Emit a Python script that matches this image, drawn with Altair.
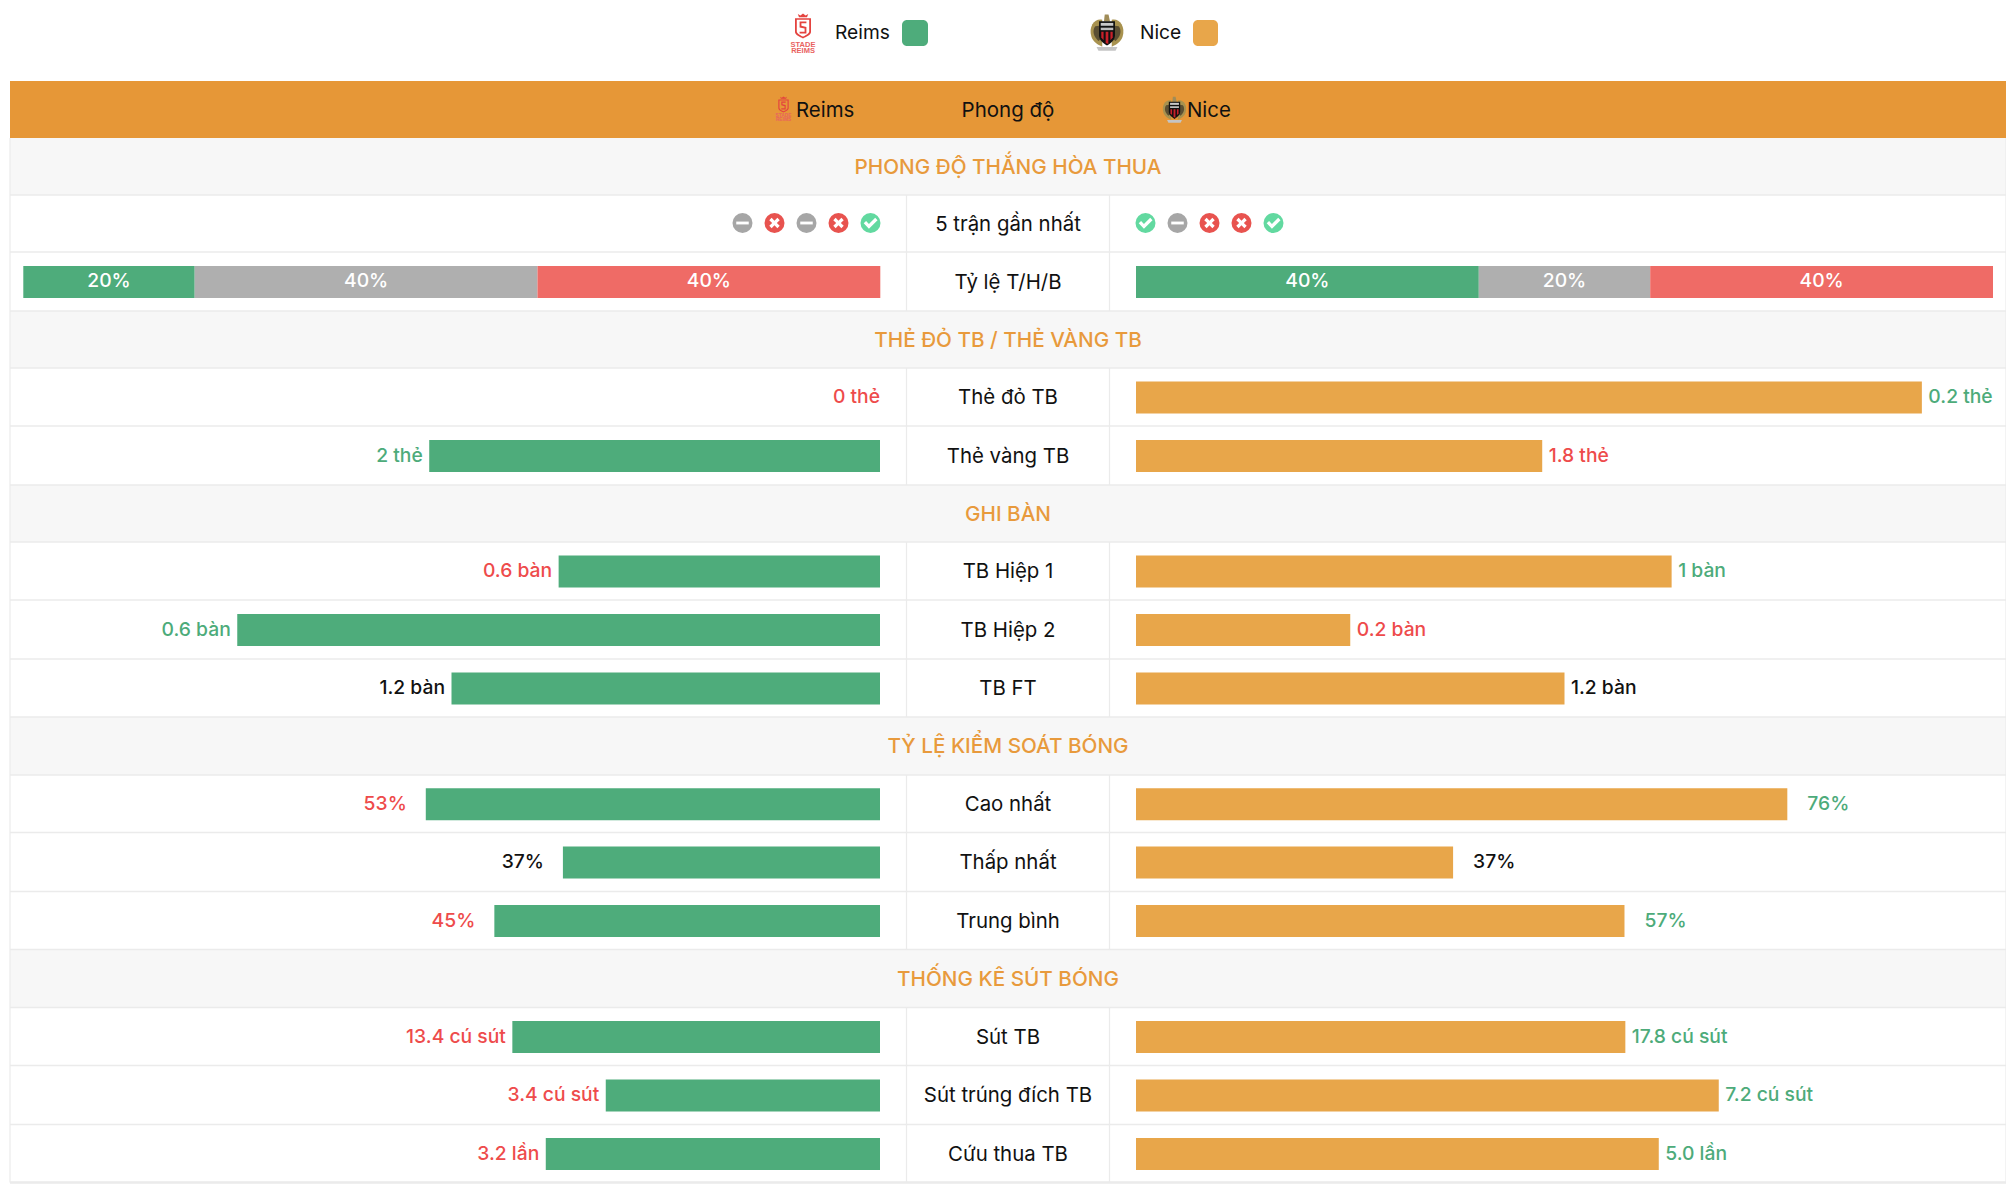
import altair as alt
import pandas as pd

FONT = "Inter"
# ---- data ----
team_left = "Reims"
team_right = "Nice"
center_header = "Phong độ"

form_section = "PHONG ĐỘ THẮNG HÒA THUA"
form_label = "5 trận gần nhất"
form_left = ["D", "L", "D", "L", "W"]
form_right = ["W", "D", "L", "L", "W"]
rate_label = "Tỷ lệ T/H/B"
rate_left = [20, 40, 40]
rate_right = [40, 20, 40]

sections = [
    "THẺ ĐỎ TB / THẺ VÀNG TB",
    "GHI BÀN",
    "TỶ LỆ KIỂM SOÁT BÓNG",
    "THỐNG KÊ SÚT BÓNG",
]
metric_groups = [
    ["Thẻ đỏ TB", "Thẻ vàng TB"],
    ["TB Hiệp 1", "TB Hiệp 2", "TB FT"],
    ["Cao nhất", "Thấp nhất", "Trung bình"],
    ["Sút TB", "Sút trúng đích TB", "Cứu thua TB"],
]
left_text = [
    ["0 thẻ", "2 thẻ"],
    ["0.6 bàn", "0.6 bàn", "1.2 bàn"],
    ["53%", "37%", "45%"],
    ["13.4 cú sút", "3.4 cú sút", "3.2 lần"],
]
right_text = [
    ["0.2 thẻ", "1.8 thẻ"],
    ["1 bàn", "0.2 bàn", "1.2 bàn"],
    ["76%", "37%", "57%"],
    ["17.8 cú sút", "7.2 cú sút", "5.0 lần"],
]
left_share = [[0, 52.6], [37.5, 75, 50], [53, 37, 45], [42.9, 32, 39]]
right_share = [[91.7, 47.4], [62.5, 25, 50], [76, 37, 57], [57.1, 68, 61]]
# w = better, l = worse, t = level
left_tone = [["l", "w"], ["l", "w", "t"], ["l", "t", "l"], ["l", "l", "l"]]
right_tone = [["w", "l"], ["w", "l", "t"], ["w", "t", "w"], ["w", "w", "w"]]

# ---- styles & layout ----
GREEN, ORANGE, HEAD = "#4EAC7B", "#E8A64A", "#E69737"
RED_BAR, GREY_BAR = "#EF6B66", "#AFAFAF"
TONE = {"w": "#4DAB7A", "l": "#EE4B4B", "t": "#111111"}
BAND, LINE = "#F7F7F7", "#EBEBEB"
L_EDGE, R_EDGE = 10, 2006
C_LEFT, C_RIGHT = 906.5, 1109.5
MID = 1008
L_END, R_START, COL_W = 880, 1136, 857
BAR_H = 32

xs = alt.Scale(domain=[8, 2006], range=[0, 1998], nice=False, zero=False)
ys = alt.Scale(domain=[8, 1190], range=[0, 1182], nice=False, zero=False)
X = lambda f="x": alt.X(f"{f}:Q", scale=xs, axis=None)
Y = lambda f="y": alt.Y(f"{f}:Q", scale=ys, axis=None)
X2 = lambda f="x2": alt.X2(f"{f}:Q")
Y2 = lambda f="y2": alt.Y2(f"{f}:Q")
C = alt.Color("c:N", scale=None, legend=None)

# row heights in page order
heights = [57, 57, 59, 57, 58, 59, 57, 58, 59, 58, 58, 57.5, 59, 58, 58, 58, 59, 58]
kinds = ["s", "f", "r"]
titles = [form_section, form_label, rate_label]
for s, g in zip(sections, metric_groups):
    kinds.append("s"); titles.append(s)
    kinds += ["m"] * len(g); titles += g

tops = [138]
for h in heights:
    tops.append(tops[-1] + h)

bands, sect_txt, row_txt, hlines, vlines, cy_metrics = [], [], [], [], [], []
for i, (k, t) in enumerate(zip(kinds, titles)):
    top, bot = tops[i], tops[i + 1]
    cy = (top + bot) / 2
    hlines.append({"x": L_EDGE, "x2": R_EDGE, "y": bot})
    if k == "s":
        bands.append({"x": L_EDGE, "x2": R_EDGE, "y": top, "y2": bot})
        sect_txt.append({"x": MID, "y": cy + 1, "t": t})
    else:
        row_txt.append({"x": MID, "y": cy + 1, "t": t})
        vlines += [{"x": C_LEFT, "y": top, "y2": bot}, {"x": C_RIGHT, "y": top, "y2": bot}]
        if k == "m":
            cy_metrics.append(cy)
form_y = (tops[1] + tops[2]) / 2
rate_y = (tops[2] + tops[3]) / 2

bars, labels = [], []
n = 0
for gi, g in enumerate(metric_groups):
    for j in range(len(g)):
        cy = cy_metrics[n] + 0.5; n += 1
        lgap = 19 if gi == 2 else 6.5
        rgap = 20 if gi == 2 else 6.5
        lw = left_share[gi][j] / 100 * COL_W
        rw = right_share[gi][j] / 100 * COL_W
        if lw > 0:
            bars.append({"x": L_END - lw, "x2": L_END, "y": cy - BAR_H / 2, "y2": cy + BAR_H / 2, "c": GREEN})
            lab_x = L_END - lw - lgap
        else:
            lab_x = L_END
        bars.append({"x": R_START, "x2": R_START + rw, "y": cy - BAR_H / 2, "y2": cy + BAR_H / 2, "c": ORANGE})
        labels.append({"x": lab_x, "y": cy - 0.5, "t": left_text[gi][j], "c": TONE[left_tone[gi][j]], "a": "right"})
        labels.append({"x": R_START + rw + rgap, "y": cy - 0.5, "t": right_text[gi][j], "c": TONE[right_tone[gi][j]], "a": "left"})

rate_cols = [GREEN, GREY_BAR, RED_BAR]
rate_txt = []
for start, vals in ((23.3, rate_left), (R_START, rate_right)):
    pos = start
    for v, col in zip(vals, rate_cols):
        w = v / 100 * COL_W
        bars.append({"x": pos, "x2": pos + w, "y": rate_y + 0.5 - BAR_H / 2, "y2": rate_y + 0.5 + BAR_H / 2, "c": col})
        rate_txt.append({"x": pos + w / 2, "y": rate_y - 1, "t": f"{v}%"})
        pos += w

# form icons
ICON = {"W": "#62D9A0", "D": "#A6A6A6", "L": "#E8534F"}
GLYPH = {
    "W": "M-0.52,0.02 L-0.34,-0.16 L-0.12,0.08 L0.36,-0.4 L0.54,-0.22 L-0.12,0.44 Z",
    "D": "M-0.48,-0.11 L0.48,-0.11 L0.48,0.11 L-0.48,0.11 Z",
    "L": "M-0.4,-0.22 L-0.22,-0.4 L0,-0.18 L0.22,-0.4 L0.4,-0.22 L0.18,0 L0.4,0.22 L0.22,0.4 L0,0.18 L-0.22,0.4 L-0.4,0.22 L-0.18,0 Z",
}
icons = []
for i, r in enumerate(form_left):
    icons.append({"x": 870.5 - 32 * (4 - i), "y": form_y - 0.5, "c": ICON[r], "g": GLYPH[r]})
for i, r in enumerate(form_right):
    icons.append({"x": 1145.5 + 32 * i, "y": form_y - 0.5, "c": ICON[r], "g": GLYPH[r]})

# crests: parts drawn in order, "{bg}" is the colour showing through the badge
REIMS_RED = "#E4433F"
reims_parts = [
    ("M-0.4,-0.74 L0.4,-0.74 L0.4,-0.05 C0.4,0.1 0.15,0.2 0,0.27 C-0.15,0.2 -0.4,0.1 -0.4,-0.05 Z", REIMS_RED),
    ("M-0.31,-0.66 L0.31,-0.66 L0.31,-0.08 C0.31,0.03 0.1,0.12 0,0.18 C-0.1,0.12 -0.31,0.03 -0.31,-0.08 Z", "{bg}"),
    ("M-0.17,-0.58 L0.17,-0.58 L0.17,-0.49 L-0.08,-0.49 L-0.08,-0.36 L0.17,-0.3 L0.17,0.03 L-0.17,0.03 L-0.17,-0.06 L0.08,-0.06 L0.08,-0.22 L-0.17,-0.28 Z", REIMS_RED),
    ("M-0.26,-0.95 L-0.13,-0.87 L0,-0.97 L0.13,-0.87 L0.26,-0.95 L0.2,-0.79 L-0.2,-0.79 Z", REIMS_RED),
]
nice_parts = [
    ("M-0.25,-0.7 C-0.6,-0.8 -1.0,-0.4 -0.82,0.2 C-0.74,0.45 -0.5,0.62 -0.25,0.72 Z", "#A8924F"),
    ("M0.25,-0.7 C0.6,-0.8 1.0,-0.4 0.82,0.2 C0.74,0.45 0.5,0.62 0.25,0.72 Z", "#A8924F"),
    ("M-0.62,-0.35 C-0.8,-0.1 -0.7,0.2 -0.45,0.42 L-0.3,0.3 L-0.3,-0.4 Z", "#5B4F33"),
    ("M0.62,-0.35 C0.8,-0.1 0.7,0.2 0.45,0.42 L0.3,0.3 L0.3,-0.4 Z", "#5B4F33"),
    ("M-0.12,-0.98 L0.08,-0.98 L0.16,-0.6 L-0.16,-0.6 Z", "#A08C58"),
    ("M-0.42,-0.62 L0.42,-0.62 L0.42,0.12 C0.42,0.38 0.18,0.56 0,0.66 C-0.18,0.56 -0.42,0.38 -0.42,0.12 Z", "#111111"),
    ("M-0.33,-0.53 L0.33,-0.53 L0.33,-0.38 L-0.33,-0.38 Z", "#C9C9C9"),
    ("M-0.33,-0.28 L0.33,-0.28 L0.33,-0.15 L-0.33,-0.15 Z", "#BDBDBD"),
    ("M-0.3,-0.06 L-0.18,-0.06 L-0.18,0.38 L-0.3,0.24 Z", "#C8202A"),
    ("M-0.07,-0.06 L0.07,-0.06 L0.07,0.58 L-0.07,0.52 Z", "#C8202A"),
    ("M0.18,-0.06 L0.3,-0.06 L0.3,0.24 L0.18,0.38 Z", "#C8202A"),
    ("M-0.55,0.74 L0.55,0.74 L0.45,0.94 L-0.45,0.94 Z", "#C4C4C4"),
]
crests = []
order = 0
for parts, cx, cy, box, bg in ((reims_parts, 803, 33, 40, "#FFFFFF"), (nice_parts, 1107, 33, 38, "#FFFFFF"),
                               (reims_parts, 783.5, 109, 26, HEAD), (nice_parts, 1174.5, 110, 27, HEAD)):
    for p, col in parts:
        crests.append({"x": cx, "y": cy, "g": p, "c": col.replace("{bg}", bg), "s": box * box, "o": order})
        order += 1

crest_txt = [
    {"x": 803, "y": 44.5, "t": "STADE", "s": 7.5},
    {"x": 803, "y": 50.5, "t": "REIMS", "s": 7.5},
    {"x": 783.5, "y": 116, "t": "STADE", "s": 4.8},
    {"x": 783.5, "y": 120, "t": "REIMS", "s": 4.8},
]

swatches = [
    {"x": 902, "x2": 928, "y": 20, "y2": 46, "c": GREEN},
    {"x": 1193, "x2": 1218, "y": 20, "y2": 46, "c": ORANGE},
]
legend_txt = [
    {"x": 835, "y": 33, "t": team_left},
    {"x": 1140, "y": 33, "t": team_right},
]
head_left = [
    {"x": 796, "y": 111, "t": team_left},
    {"x": 1187, "y": 111, "t": team_right},
]
head_mid = [{"x": MID, "y": 111, "t": center_header}]

def D(rows):
    return alt.Data(values=rows)

layers = [
    alt.Chart(D([{"x": L_EDGE, "x2": R_EDGE, "y": 81, "y2": 138}])).mark_rect(color=HEAD)
        .encode(x=X(), x2=X2(), y=Y(), y2=Y2()),
    alt.Chart(D(bands)).mark_rect(color=BAND).encode(x=X(), x2=X2(), y=Y(), y2=Y2()),
    alt.Chart(D(hlines)).mark_rule(color=LINE, strokeWidth=1.4).encode(x=X(), x2=X2(), y=Y()),
    alt.Chart(D(vlines)).mark_rule(color=LINE, strokeWidth=1.2).encode(x=X(), y=Y(), y2=Y2()),
    alt.Chart(D([{"x": L_EDGE, "y": 138, "y2": tops[-1]}, {"x": R_EDGE, "y": 138, "y2": tops[-1]}]))
        .mark_rule(color=LINE, strokeWidth=1.2).encode(x=X(), y=Y(), y2=Y2()),
    alt.Chart(D([{"x": L_EDGE, "x2": R_EDGE, "y": tops[-1]}])).mark_rule(color=LINE, strokeWidth=2.5)
        .encode(x=X(), x2=X2(), y=Y()),
    alt.Chart(D(bars)).mark_rect().encode(x=X(), x2=X2(), y=Y(), y2=Y2(), color=C),
    alt.Chart(D(swatches)).mark_rect(cornerRadius=5).encode(x=X(), x2=X2(), y=Y(), y2=Y2(), color=C),
    alt.Chart(D(sect_txt)).mark_text(font=FONT, fontSize=20.7, fontWeight=500, color="#E89A3C", align="center", baseline="middle")
        .encode(x=X(), y=Y(), text="t:N"),
    alt.Chart(D(row_txt)).mark_text(font=FONT, fontSize=20.4, color="#111111", align="center", baseline="middle")
        .encode(x=X(), y=Y(), text="t:N"),
    alt.Chart(D([r for r in labels if r["a"] == "right"])).mark_text(font=FONT, fontSize=19.3, fontWeight=500, align="right", baseline="middle")
        .encode(x=X(), y=Y(), text="t:N", color=C),
    alt.Chart(D([r for r in labels if r["a"] == "left"])).mark_text(font=FONT, fontSize=19.3, fontWeight=500, align="left", baseline="middle")
        .encode(x=X(), y=Y(), text="t:N", color=C),
    alt.Chart(D(rate_txt)).mark_text(font=FONT, fontSize=19.3, fontWeight=500, color="#FFFFFF", align="center", baseline="middle")
        .encode(x=X(), y=Y(), text="t:N"),
    alt.Chart(D(icons)).mark_point(filled=True, shape="circle", size=400, opacity=1, strokeWidth=0)
        .encode(x=X(), y=Y(), color=C),
    alt.Chart(D(icons)).mark_point(filled=True, size=680, opacity=1, strokeWidth=0, color="#FFFFFF")
        .encode(x=X(), y=Y(), shape=alt.Shape("g:N", scale=None, legend=None)),
    alt.Chart(D(crests)).mark_point(filled=True, opacity=1, strokeWidth=0)
        .encode(x=X(), y=Y(), color=C, shape=alt.Shape("g:N", scale=None, legend=None),
                size=alt.Size("s:Q", scale=None, legend=None), order=alt.Order("o:Q")),
    alt.Chart(D(crest_txt)).mark_text(font="Liberation Sans", color="#E9635F", fontWeight="bold", align="center", baseline="middle")
        .encode(x=X(), y=Y(), text="t:N", size=alt.Size("s:Q", scale=None, legend=None)),
    alt.Chart(D(legend_txt)).mark_text(font=FONT, fontSize=19.2, color="#111111", align="left", baseline="middle")
        .encode(x=X(), y=Y(), text="t:N"),
    alt.Chart(D(head_left)).mark_text(font=FONT, fontSize=20.4, color="#111111", align="left", baseline="middle")
        .encode(x=X(), y=Y(), text="t:N"),
    alt.Chart(D(head_mid)).mark_text(font=FONT, fontSize=20.5, color="#111111", align="center", baseline="middle")
        .encode(x=X(), y=Y(), text="t:N"),
]

chart = (
    alt.layer(*layers)
    .properties(width=1998, height=1182, padding=0, autosize=alt.AutoSizeParams(type="none"), background="#FFFFFF")
    .configure_view(stroke=None)
)
chart.save("out.html", embed_options={"renderer": "svg", "actions": False})
